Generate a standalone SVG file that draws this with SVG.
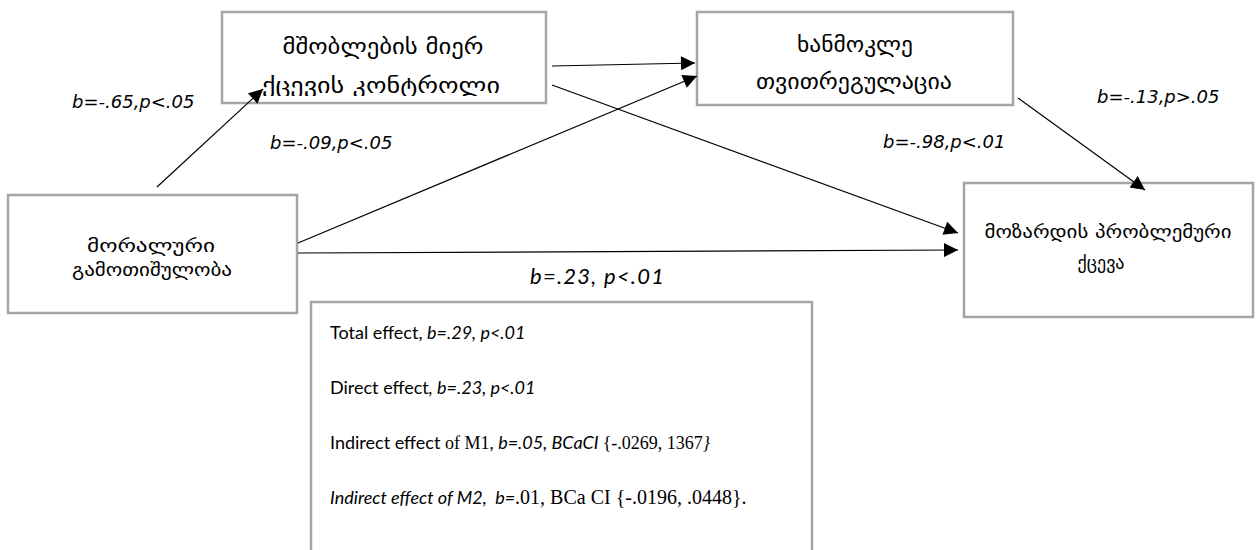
<svg xmlns="http://www.w3.org/2000/svg" width="1259" height="550" viewBox="0 0 1259 550">
<style>
.box{fill:#fff;stroke:#a5a5a5;stroke-width:2.5}
.geo{font-family:"DejaVu Sans",sans-serif;font-size:21px;fill:#000;text-anchor:middle}
.geos{font-family:"DejaVu Sans",sans-serif;font-size:18px;fill:#000;text-anchor:middle}
.lbl{font-family:"DejaVu Sans",sans-serif;font-style:italic;font-size:18px;fill:#000}
.lbl2{font-family:Lato,"Liberation Sans",sans-serif;font-style:italic;font-size:22px;fill:#000}
.eff{font-family:Lato,"Liberation Sans",sans-serif;font-size:18px;fill:#000;white-space:pre}
.it{font-style:italic}
.ser{font-family:"Liberation Serif",serif}
.ser20{font-family:"Liberation Serif",serif;font-size:20px}
.con{stroke:#000;stroke-width:1.2;fill:none;marker-end:url(#ah)}
</style>
<defs>
<marker id="ah" viewBox="0 0 10 10" refX="10" refY="5" markerWidth="17" markerHeight="14" markerUnits="userSpaceOnUse" orient="auto">
<path d="M0,0 L10,5 L0,10 z" fill="#000"/>
</marker>
<clipPath id="c1"><rect x="222" y="12" width="324" height="84"/></clipPath>
</defs>
<rect width="1259" height="550" fill="#fff"/>
<g id="node-parent-control">
<rect class="box" x="222" y="12" width="324" height="91"/>
<g clip-path="url(#c1)">
<text class="geo" x="383" y="54" textLength="201" lengthAdjust="spacingAndGlyphs">მშობლების მიერ</text>
<text class="geo" x="381" y="93" textLength="238" lengthAdjust="spacingAndGlyphs">ქცევის კონტროლი</text>
</g>
</g>
<g id="node-self-regulation">
<rect class="box" x="697" y="12" width="316" height="93"/>
<text class="geo" x="855" y="52" textLength="116" lengthAdjust="spacingAndGlyphs">ხანმოკლე</text>
<text class="geo" x="854" y="89" textLength="196" lengthAdjust="spacingAndGlyphs">თვითრეგულაცია</text>
</g>
<g id="node-moral-disengagement">
<rect class="box" x="8" y="195" width="289" height="118"/>
<text class="geos" x="151" y="252" textLength="128" lengthAdjust="spacingAndGlyphs">მორალური</text>
<text class="geos" x="152" y="276" textLength="160" lengthAdjust="spacingAndGlyphs">გამოთიშულობა</text>
</g>
<g id="node-problem-behavior">
<rect class="box" x="964" y="183" width="289" height="134"/>
<text class="geos" x="1108" y="238" textLength="247" lengthAdjust="spacingAndGlyphs">მოზარდის პრობლემური</text>
<text class="geos" x="1101" y="269" textLength="47" lengthAdjust="spacingAndGlyphs">ქცევა</text>
</g>
<g id="labels">
<text class="lbl" x="72" y="108">b=-.65,p&lt;.05</text>
<text class="lbl" x="270" y="149">b=-.09,p&lt;.05</text>
<text class="lbl" x="883" y="148">b=-.98,p&lt;.01</text>
<text class="lbl" x="1097" y="103">b=-.13,p&gt;.05</text>
<text class="lbl2" x="530" y="284" textLength="134" lengthAdjust="spacing">b=.23, p&lt;.01</text>
</g>
<g id="node-effects">
<rect class="box" x="311" y="302" width="501" height="260"/>
<text class="eff" x="330" y="339">Total effect, <tspan class="it">b=.29, p&lt;.01</tspan></text>
<text class="eff" x="330" y="394">Direct effect<tspan class="it">, b=.23, p&lt;.01</tspan></text>
<text class="eff" x="330" y="449">Indirect effect <tspan class="ser">of M1</tspan>, <tspan class="it">b=.05, BCaCI </tspan><tspan class="ser">{-.0269, 1367</tspan><tspan class="ser it">}</tspan></text>
<text class="eff" x="330" y="504"><tspan class="it">Indirect effect of M2,  b=</tspan><tspan class="ser20">.01, BCa CI {-.0196, .0448}.</tspan></text>
</g>
<g id="connectors">
<line class="con" x1="157" y1="187" x2="263" y2="89"/>
<line class="con" x1="552" y1="66" x2="695" y2="63"/>
<line class="con" x1="298" y1="243" x2="697" y2="76"/>
<line class="con" x1="552" y1="85" x2="958" y2="233"/>
<line class="con" x1="298" y1="253" x2="958" y2="250"/>
<line class="con" x1="1018" y1="98" x2="1145" y2="190"/>
</g>
</svg>
